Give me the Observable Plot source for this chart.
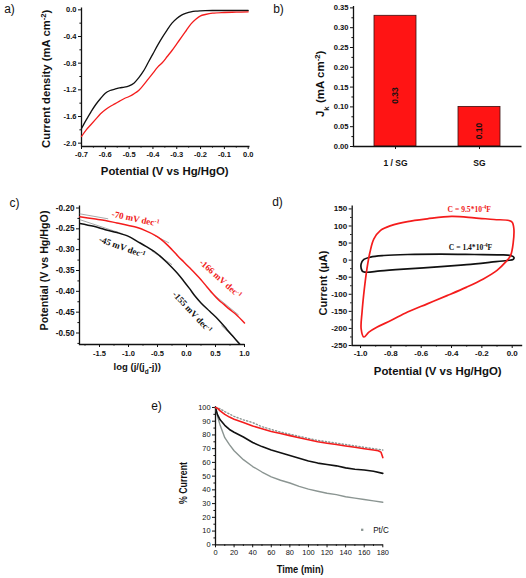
<!DOCTYPE html>
<html><head><meta charset="utf-8">
<script src="https://cdn.jsdelivr.net/npm/d3@7"></script>
<script src="https://cdn.jsdelivr.net/npm/@observablehq/plot@0.6"></script>
<style>
html,body{margin:0;padding:0;background:#fff;}
#fig{position:relative;width:526px;height:578px;overflow:hidden;background:#fff;}
</style></head><body><div id="fig"></div>
<script>
// ---------- Panel a: LSV ----------
const potA = [-0.70,-0.68,-0.66,-0.64,-0.62,-0.60,-0.58,-0.56,-0.54,-0.52,-0.50,-0.48,-0.46,-0.44,-0.42,-0.40,-0.38,-0.36,-0.34,-0.32,-0.30,-0.28,-0.26,-0.24,-0.22,-0.20,-0.18,-0.15,-0.10,-0.05,0.0];
const jA_SG = [-1.78,-1.65,-1.53,-1.42,-1.33,-1.25,-1.21,-1.19,-1.17,-1.16,-1.14,-1.10,-1.02,-0.92,-0.79,-0.66,-0.53,-0.41,-0.30,-0.20,-0.13,-0.08,-0.05,-0.03,-0.02,-0.015,-0.012,-0.01,-0.01,-0.01,-0.01];
const jA_1SG = [-1.90,-1.80,-1.72,-1.64,-1.56,-1.50,-1.45,-1.41,-1.37,-1.33,-1.30,-1.26,-1.21,-1.13,-1.04,-0.95,-0.86,-0.79,-0.70,-0.61,-0.51,-0.41,-0.31,-0.21,-0.14,-0.09,-0.07,-0.05,-0.04,-0.035,-0.03];
const ticksA_x = [-0.7,-0.6,-0.5,-0.4,-0.3,-0.2,-0.1,0.0];
const minorA_x = [-0.65,-0.55,-0.45,-0.35,-0.25,-0.15,-0.05];
const ticksA_y = [0.0,-0.4,-0.8,-1.2,-1.6,-2.0];
const minorA_y = [-0.2,-0.6,-1.0,-1.4,-1.8];

// ---------- Panel b: bars ----------
const catsB = ["1 / SG","SG"];
const valsB = [0.33, 0.10];
const ticksB_y = [0,0.05,0.10,0.15,0.20,0.25,0.30,0.35];
const minorB_y = [0.025,0.075,0.125,0.175,0.225,0.275,0.325];

// ---------- Panel c: Tafel ----------
const logC_SG = [-1.84,-1.60,-1.40,-1.20,-1.00,-0.85,-0.70,-0.55,-0.45,-0.35,-0.25,-0.15,-0.05,0.05,0.15,0.25,0.40,0.55,0.70,0.80,0.92];
const potC_SG = [-0.237,-0.244,-0.252,-0.259,-0.268,-0.280,-0.292,-0.305,-0.316,-0.329,-0.343,-0.358,-0.375,-0.393,-0.412,-0.428,-0.448,-0.468,-0.492,-0.508,-0.527];
const logC_1SG = [-1.84,-1.60,-1.40,-1.20,-1.00,-0.85,-0.70,-0.55,-0.45,-0.35,-0.25,-0.15,-0.05,0.05,0.15,0.25,0.35,0.45,0.55,0.65,0.75,0.85,1.00];
const potC_1SG = [-0.221,-0.226,-0.230,-0.236,-0.242,-0.247,-0.255,-0.265,-0.274,-0.286,-0.300,-0.315,-0.329,-0.343,-0.357,-0.372,-0.389,-0.405,-0.420,-0.432,-0.444,-0.455,-0.476];
// fitted Tafel segments [x1,y1,x2,y2]
const fitsC = [[-1.84,-0.214,-1.35,-0.226],[-1.84,-0.228,-1.10,-0.262],[-0.60,-0.303,-0.25,-0.336],[-0.55,-0.266,-0.30,-0.284],[0.40,-0.400,0.90,-0.457],[0.60,-0.482,0.92,-0.525]];
const slopesC = ["-70 mV dec^{-1}","-45 mV dec^{-1}","-166 mV dec^{-1}","-155 mV dec^{-1}"];
const slopesC_x = [-0.879,-1.109,0.586,0.098];
const slopesC_y = [-0.226,-0.294,-0.370,-0.450];
const slopesC_rot = [12,20,42,47];
const slopesC_col = ["#f01818","#111","#f01818","#111"];
const ticksC_x = [-1.5,-1.0,-0.5,0.0,0.5,1.0];
const minorC_x = [-1.75,-1.25,-0.75,-0.25,0.25,0.75];
const ticksC_y = [-0.20,-0.25,-0.30,-0.35,-0.40,-0.45,-0.50];
const minorC_y = [-0.225,-0.275,-0.325,-0.375,-0.425,-0.475,-0.525];

// ---------- Panel d: CV ----------
const potD_1SG = [-0.978,-0.996,-0.99,-0.975,-0.958,-0.938,-0.912,-0.868,-0.80,-0.69,-0.56,-0.40,-0.25,-0.12,-0.022,0.0,0.011,0.007,-0.011,-0.044,-0.10,-0.19,-0.30,-0.43,-0.56,-0.69,-0.80,-0.89,-0.945];
const curD_1SG = [-225,-201,-152,-84,-26,23,62,87,101,113,121,128,124,119,116,111,92,52,13,-6,-30,-55,-79,-104,-128,-152,-177,-196,-211];
const potD_SG = [-0.99,-0.996,-0.978,-0.934,-0.846,-0.69,-0.47,-0.25,-0.08,-0.011,0.011,0.007,-0.033,-0.14,-0.30,-0.47,-0.69,-0.87,-0.956,-0.982];
const curD_SG = [-31,-11,2,9,13.5,16.5,17.5,16.5,15.5,13.5,8.5,2,-1,-6,-13,-19,-25.5,-31.5,-35.5,-34];
const capD = ["C = 9.5*10^{-4}F","C = 1.4*10^{-4}F"];
const capD_x = [-0.283,-0.275];
const capD_y = [148,36];
const capD_col = ["#f01818","#111"];
const ticksD_x = [-1.0,-0.8,-0.6,-0.4,-0.2,0.0];
const minorD_x = [-0.9,-0.7,-0.5,-0.3,-0.1];
const ticksD_y = [-250,-200,-150,-100,-50,0,50,100,150];
const minorD_y = [-225,-175,-125,-75,-25,25,75,125];

// ---------- Panel e: stability ----------
const tE_1SG = [0,2,5,10,15,20,30,40,50,60,70,80,90,100,110,120,130,140,150,160,170,175,178,180];
const pE_1SG = [100,99.5,97.5,95,93,91.5,89,86.5,84.5,82.5,81,79.5,78,76.5,75,74,73,72,71,70,69,68.5,67.5,63.5];
const tE_PtC = [0,5,10,20,30,40,50,60,70,80,90,100,110,120,130,140,150,160,170,180];
const pE_PtC = [100,99,97,93.5,91,89,86,84,82,80.5,79,77.5,76,75,74,73,72,71,70,69];
const tE_SG = [0,2,5,10,15,20,30,40,50,60,70,80,90,100,110,120,130,140,150,160,170,180];
const pE_SG = [100,95,91,87,84,82,78.5,74.5,71.5,69,67,65,63,61,59.5,58.5,57.5,56,55,54.5,53.5,52];
const tE_G = [0,2,5,10,15,20,30,40,50,60,70,80,90,100,110,120,130,140,150,160,170,180];
const pE_G = [100,94,87,78,73,68.5,62,57,53,49.5,47,45,42.5,40.5,39,37.5,36.5,35,34,33,32,31];
const ticksE_x = [0,20,40,60,80,100,120,140,160,180];
const minorE_x = [10,30,50,70,90,110,130,150,170];
const ticksE_y = [0,10,20,30,40,50,60,70,80,90,100];
const minorE_y = [5,15,25,35,45,55,65,75,85,95];

// ---------- helpers ----------
const RED = "#f41c1c", BLK = "#111", GRY = "#8b9592";
const SANS = "'Liberation Sans', Arial, sans-serif";
const SERIF = "'Liberation Serif', 'Times New Roman', serif";
const fig = document.getElementById("fig");
const pts = (xs, ys) => xs.map((x, i) => ({x, y: ys[i]}));

function richify(svg) {
  svg.querySelectorAll("text").forEach(t => {
    const s = t.textContent;
    if (!/[\^_]\{/.test(s)) return;
    while (t.firstChild) t.removeChild(t.firstChild);
    const re = /([\^_])\{([^}]*)\}/g; let last = 0, m;
    const add = (txt, kind) => {
      const ts = document.createElementNS("http://www.w3.org/2000/svg", "tspan");
      ts.textContent = txt;
      if (kind) { ts.setAttribute("baseline-shift", kind === "^" ? "super" : "sub"); ts.setAttribute("font-size", "68%"); }
      t.appendChild(ts);
    };
    while ((m = re.exec(s))) { if (m.index > last) add(s.slice(last, m.index)); add(m[2], m[1]); last = re.lastIndex; }
    if (last < s.length) add(s.slice(last));
  });
}
function place(svg, left, top) {
  svg.style.position = "absolute"; svg.style.left = left + "px"; svg.style.top = top + "px";
  svg.style.background = "transparent"; svg.style.overflow = "visible";
  richify(svg); fig.appendChild(svg);
}
function axisFrame(W, H, m) {
  const w = W - m.l - m.r, h = H - m.t - m.b;
  return Plot.frame({stroke: BLK, strokeWidth: 1.3, strokeDasharray: `0 ${w + h} ${w + h}`});
}
function axes(xMaj, xMin, yMaj, yMin, fx, fy, o = {}) {
  const a = [];
  if (xMaj) a.push(Plot.axisX({ticks: xMaj, tickFormat: fx, tickSize: 3, tickPadding: o.xPad ?? 2, label: null, strokeWidth: 1, fontSize: o.xfs}));
  if (xMin) a.push(Plot.axisX({ticks: xMin, tickFormat: () => "", tickSize: 1.6, label: null, strokeWidth: 1}));
  a.push(Plot.axisY({ticks: yMaj, tickFormat: fy, tickSize: 3, tickPadding: o.yPad ?? 2, label: null, strokeWidth: 1, fontSize: o.yfs}));
  a.push(Plot.axisY({ticks: yMin, tickFormat: () => "", tickSize: 1.6, label: null, strokeWidth: 1}));
  return a;
}
const f1 = d => d.toFixed(1), f2 = d => d.toFixed(2), f0 = d => String(d);

// ---------- Panel a ----------
{
  const W = 263, H = 190, m = {l: 81, r: 14, t: 7, b: 44};
  const p = Plot.plot({
    width: W, height: H, marginLeft: m.l, marginRight: m.r, marginTop: m.t, marginBottom: m.b,
    style: {fontFamily: SANS, fontWeight: "bold", fontSize: "7.5px", background: "transparent", color: BLK},
    x: {domain: [-0.7, 0.0055]}, y: {domain: [-2.05, 0.035]},
    marks: [
      ...axes(ticksA_x, minorA_x, ticksA_y, minorA_y, f1, f1),
      axisFrame(W, H, m),
      Plot.line(pts(potA, jA_SG), {x: "x", y: "y", stroke: BLK, strokeWidth: 1.3, curve: "catmull-rom"}),
      Plot.line(pts(potA, jA_1SG), {x: "x", y: "y", stroke: RED, strokeWidth: 1.3, curve: "catmull-rom"})
    ]
  });
  place(p, 0, 0);
}
// ---------- Panel b ----------
{
  const W = 263, H = 190, m = {l: 90, r: 5, t: 5.4, b: 44};
  const data = catsB.map((c, i) => ({c, v: valsB[i]}));
  const p = Plot.plot({
    width: W, height: H, marginLeft: m.l, marginRight: m.r, marginTop: m.t, marginBottom: m.b,
    style: {fontFamily: SANS, fontWeight: "bold", fontSize: "7.6px", background: "transparent", color: BLK},
    x: {domain: catsB, paddingInner: 0.5, paddingOuter: 0.25}, y: {domain: [0, 0.355]},
    marks: [
      Plot.axisX({tickSize: 3, tickPadding: 10, label: null, fontSize: 8.5, strokeWidth: 1}),
      ...axes(null, null, ticksB_y, minorB_y, null, f2),
      Plot.barY(data, {x: "c", y: "v", fill: "#ff1414", stroke: "#3a1010", strokeWidth: 0.8}),
      axisFrame(W, H, m),
      Plot.text(data, {x: "c", y: d => d.v * 0.39, text: d => d.v.toFixed(2), rotate: -90, fontSize: 8.5, fontWeight: "bold", fill: BLK})
    ]
  });
  place(p, 263, 0);
}
// ---------- Panel c ----------
{
  const W = 263, H = 190, m = {l: 79, r: 19, t: 15, b: 36};
  const p = Plot.plot({
    width: W, height: H, marginLeft: m.l, marginRight: m.r, marginTop: m.t, marginBottom: m.b,
    style: {fontFamily: SANS, fontWeight: "bold", fontSize: "7.5px", background: "transparent", color: BLK},
    x: {domain: [-1.845, 1.0]}, y: {domain: [-0.5276, -0.194]},
    marks: [
      ...axes(ticksC_x, minorC_x, ticksC_y, minorC_y, f1, f2, {xPad: 3, yfs: 8.2}),
      axisFrame(W, H, m),
      Plot.link(fitsC, {x1: d => d[0], y1: d => d[1], x2: d => d[2], y2: d => d[3], stroke: "#aaa", strokeWidth: 1}),
      Plot.line(pts(logC_SG, potC_SG), {x: "x", y: "y", stroke: BLK, strokeWidth: 1.5, curve: "catmull-rom"}),
      Plot.line(pts(logC_1SG, potC_1SG), {x: "x", y: "y", stroke: RED, strokeWidth: 1.5, curve: "catmull-rom"}),
      Plot.text(slopesC, {x: slopesC_x, y: slopesC_y, text: d => d, rotate: slopesC_rot, fill: slopesC_col, fontFamily: SERIF, fontWeight: "bold", fontSize: 9})
    ]
  });
  place(p, 0, 190);
}
// ---------- Panel d ----------
{
  const W = 263, H = 190, m = {l: 88.7, r: 4.3, t: 15, b: 35};
  const p = Plot.plot({
    width: W, height: H, marginLeft: m.l, marginRight: m.r, marginTop: m.t, marginBottom: m.b,
    style: {fontFamily: SANS, fontWeight: "bold", fontSize: "8px", background: "transparent", color: BLK},
    x: {domain: [-1.055, 0.066]}, y: {domain: [-250, 160]},
    marks: [
      ...axes(ticksD_x, minorD_x, ticksD_y, minorD_y, f1, f0),
      axisFrame(W, H, m),
      Plot.line(pts(potD_SG, curD_SG), {x: "x", y: "y", stroke: BLK, strokeWidth: 1.7, curve: "catmull-rom-closed"}),
      Plot.line(pts(potD_1SG, curD_1SG), {x: "x", y: "y", stroke: RED, strokeWidth: 1.7, curve: "catmull-rom-closed"}),
      Plot.text(capD, {x: capD_x, y: capD_y, text: d => d, fill: capD_col, fontFamily: SERIF, fontWeight: "bold", fontSize: 7.6})
    ]
  });
  place(p, 263, 190);
}
// ---------- Panel e ----------
{
  const W = 260, H = 188, m = {l: 75, r: 17.7, t: 15.6, b: 33.7};
  const p = Plot.plot({
    width: W, height: H, marginLeft: m.l, marginRight: m.r, marginTop: m.t, marginBottom: m.b,
    style: {fontFamily: SANS, fontWeight: "normal", fontSize: "7.4px", background: "transparent", color: BLK},
    x: {domain: [0, 180]}, y: {domain: [0, 101]},
    marks: [
      ...axes(ticksE_x, minorE_x, ticksE_y, minorE_y, f0, f0),
      axisFrame(W, H, m),
      Plot.line(pts(tE_G, pE_G), {x: "x", y: "y", stroke: GRY, strokeWidth: 1.4}),
      Plot.line(pts(tE_SG, pE_SG), {x: "x", y: "y", stroke: BLK, strokeWidth: 1.6}),
      Plot.line(pts(tE_PtC, pE_PtC), {x: "x", y: "y", stroke: GRY, strokeWidth: 1.4, strokeDasharray: "1.2 2.2"}),
      Plot.line(pts(tE_1SG, pE_1SG), {x: "x", y: "y", stroke: RED, strokeWidth: 1.6})
    ]
  });
  place(p, 140, 390);
}
// ---------- Overlay: panel letters, axis titles, legend ----------
{
  const bold = [
    {t: "Current density (mA cm^{-2})", x: 46.2, y: 78.3, r: -90, s: 11.3},
    {t: "Potential (V vs Hg/HgO)", x: 164.2, y: 170.5, r: 0, s: 11.4},
    {t: "J_{k} (mA cm^{-2})", x: 319.7, y: 83.3, r: -90, s: 11.5},
    {t: "Potential (V vs Hg/HgO)", x: 44.2, y: 270, r: -90, s: 10.7},
    {t: "log (j/(j_{d}-j))", x: 136.7, y: 366, r: 0, s: 9.5},
    {t: "Current (μA)", x: 322.8, y: 282.5, r: -90, s: 11},
    {t: "Potential (V vs Hg/HgO)", x: 437.2, y: 370.5, r: 0, s: 11.4}
  ];
  const letters = [
    {t: "a)", x: 9, y: 8.5}, {t: "b)", x: 278, y: 8.7}, {t: "c)", x: 14, y: 203},
    {t: "d)", x: 277, y: 202}, {t: "e)", x: 156, y: 405.5}
  ];
  const narrow = [
    {t: "% Current", x: 183, y: 482.5, r: -90, s: 11.3},
    {t: "Time (min)", x: 299.7, y: 569, r: 0, s: 11.8}
  ];
  const legend = [{t: "Pt/C", x: 380.5, y: 529}];
  const legendDot = [{x: 361.7, y: 529.3}];
  const condensed = {"% Current": 42, "Time (min)": 47, "Pt/C": 15.7};
  const p = Plot.plot({
    width: 526, height: 578, margin: 0,
    style: {background: "transparent", color: BLK},
    x: {type: "identity", axis: null}, y: {type: "identity", axis: null},
    marks: [
      Plot.text(bold, {x: "x", y: "y", text: "t", rotate: "r", fontSize: "s", fontFamily: SANS, fontWeight: "bold", fill: BLK}),
      Plot.text(letters, {x: "x", y: "y", text: "t", fontSize: 12, fontFamily: SANS, fill: BLK}),
      Plot.text(narrow, {x: "x", y: "y", text: "t", rotate: "r", fontSize: "s", fontFamily: SANS, fontWeight: "bold", fill: BLK}),
      Plot.text(legend, {x: "x", y: "y", text: "t", fontSize: 9.5, fontFamily: SANS, fill: BLK}),
      Plot.dot(legendDot, {x: "x", y: "y", symbol: "square", r: 1.3, fill: GRY, stroke: "none"})
    ]
  });
  p.querySelectorAll("text").forEach(t => {
    const L = condensed[t.textContent];
    if (L) { t.setAttribute("textLength", L); t.setAttribute("lengthAdjust", "spacingAndGlyphs"); }
  });
  p.style.pointerEvents = "none";
  place(p, 0, 0);
}
</script></body></html>
